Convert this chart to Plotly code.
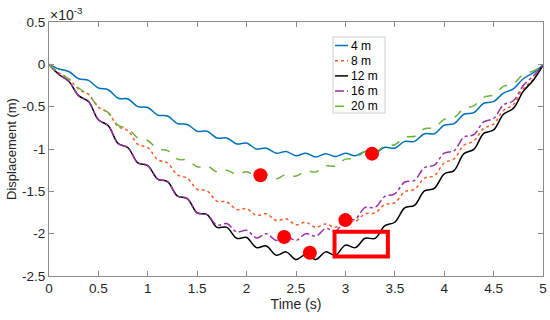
import plotly.graph_objects as go

# Time grid (s)
t = [round(0.1 * i, 1) for i in range(51)]

# Displacement values in units of 1e-3 m
d4 = [0, -0.055, -0.085, -0.17, -0.19, -0.28, -0.30, -0.40, -0.41, -0.50,
      -0.51, -0.60, -0.61, -0.70, -0.71, -0.79, -0.79, -0.87, -0.87, -0.94,
      -0.93, -1.00, -0.99, -1.05, -1.03, -1.08, -1.05, -1.095, -1.055, -1.09,
      -1.05, -1.08, -1.03, -1.05, -0.98, -0.99, -0.91, -0.91, -0.82, -0.82,
      -0.72, -0.70, -0.59, -0.57, -0.46, -0.44, -0.34, -0.29, -0.17, -0.10,
      -0.01]
d8 = [0, -0.10, -0.17, -0.295, -0.355, -0.505, -0.575, -0.735, -0.785, -0.945,
      -0.985, -1.125, -1.165, -1.305, -1.345, -1.475, -1.495, -1.615, -1.625, -1.715,
      -1.705, -1.785, -1.765, -1.845, -1.825, -1.895, -1.865, -1.925, -1.885, -1.925,
      -1.845, -1.855, -1.765, -1.755, -1.655, -1.635, -1.505, -1.475, -1.345, -1.315,
      -1.165, -1.115, -0.955, -0.905, -0.755, -0.705, -0.545, -0.475, -0.29, -0.18,
      -0.01]
d12 = [0, -0.12, -0.20, -0.37, -0.44, -0.655, -0.725, -0.935, -0.985, -1.165,
       -1.195, -1.355, -1.385, -1.555, -1.585, -1.755, -1.775, -1.925, -1.925, -2.055,
       -2.045, -2.165, -2.145, -2.255, -2.215, -2.305, -2.245, -2.305, -2.215, -2.255,
       -2.135, -2.165, -2.055, -2.055, -1.905, -1.865, -1.695, -1.665, -1.495, -1.465,
       -1.295, -1.255, -1.055, -1.005, -0.815, -0.775, -0.59, -0.52, -0.32, -0.19,
       -0.01]
d16 = [0, -0.12, -0.20, -0.37, -0.44, -0.655, -0.725, -0.935, -0.985, -1.165,
       -1.195, -1.355, -1.385, -1.555, -1.585, -1.755, -1.775, -1.90, -1.88, -1.98,
       -1.96, -2.05, -2.00, -2.08, -2.03, -2.08, -2.00, -2.03, -1.94, -1.97,
       -1.84, -1.83, -1.69, -1.69, -1.56, -1.53, -1.39, -1.37, -1.22, -1.19,
       -1.05, -1.02, -0.86, -0.83, -0.68, -0.64, -0.48, -0.43, -0.25, -0.14,
       -0.01]
d20 = [0, -0.10, -0.17, -0.28, -0.36, -0.50, -0.57, -0.72, -0.76, -0.87,
       -0.90, -1.00, -1.02, -1.12, -1.13, -1.21, -1.20, -1.27, -1.25, -1.30,
       -1.27, -1.32, -1.30, -1.35, -1.30, -1.32, -1.26, -1.27, -1.20, -1.20,
       -1.12, -1.11, -1.03, -1.04, -0.96, -0.95, -0.86, -0.85, -0.76, -0.75,
       -0.65, -0.63, -0.52, -0.49, -0.39, -0.36, -0.26, -0.23, -0.12, -0.08,
       -0.01]

series_names = ["4 m", "8 m", "12 m", "16 m", "20 m"]

# Red highlighted points (time s, displacement 1e-3 m)
pt_t = [2.14, 3.27, 3.00, 2.38, 2.64]
pt_d = [-1.31, -1.055, -1.84, -2.04, -2.225]

# Highlight rectangle [t0, t1, d0, d1]
rect = [2.89, 3.43, -2.27, -1.977]

x_ticks = [0, 0.5, 1, 1.5, 2, 2.5, 3, 3.5, 4, 4.5, 5]
x_ticktext = ["0", "0.5", "1", "1.5", "2", "2.5", "3", "3.5", "4", "4.5", "5"]
y_ticks = [-2.5, -2, -1.5, -1, -0.5, 0, 0.5]
y_ticktext = ["-2.5", "-2", "-1.5", "-1", "-0.5", "0", "0.5"]

colors = ["#0072BD", "#FF5A24", "#000000", "#9B2FA6", "#6DB33F"]
dashes = ["solid", "dot", "solid", "dashdot", "dash"]
data = [d4, d8, d12, d16, d20]

FONT = "Liberation Sans, Arial, sans-serif"

W, H = 550, 320
ML, MR, MT, MB = 49, 7, 22, 44
PW, PH = W - ML - MR, H - MT - MB


def px(xpix):
    return (xpix - ML) / PW


def py(ypix):
    return 1 - (ypix - MT) / PH


fig = go.Figure()
for name, ys, c, ds in zip(series_names, data, colors, dashes):
    fig.add_trace(go.Scatter(
        x=t, y=ys, mode="lines", name=name, showlegend=False,
        line=dict(color=c, width=1.5, dash=ds, shape="spline", smoothing=1.0),
    ))

fig.add_trace(go.Scatter(
    x=pt_t, y=pt_d, mode="markers", showlegend=False,
    marker=dict(color="#FF0000", size=14, line=dict(width=0)),
))

fig.add_shape(type="rect", xref="x", yref="y",
              x0=rect[0], x1=rect[1], y0=rect[2], y1=rect[3],
              line=dict(color="#FF0000", width=4))

# Legend box drawn in pixel-layout space (compact MATLAB-like legend)
leg_left, leg_right, leg_top, leg_bot = 333, 385, 37, 113
fig.add_shape(type="rect", xref="paper", yref="paper",
              x0=px(leg_left), x1=px(leg_right), y0=py(leg_bot), y1=py(leg_top),
              line=dict(color="#d0d0d0", width=1), fillcolor="white", layer="above")
row0, row_step = 45.5, 15.2
for i, (name, c, ds) in enumerate(zip(series_names, colors, dashes)):
    yy = row0 + i * row_step
    fig.add_shape(type="line", xref="paper", yref="paper",
                  x0=px(335), x1=px(348), y0=py(yy), y1=py(yy),
                  line=dict(color=c, width=1.5, dash=ds), layer="above")
    fig.add_annotation(xref="paper", yref="paper", x=px(349), y=py(yy),
                       xanchor="left", yanchor="middle", showarrow=False,
                       text=name, font=dict(family=FONT, size=12, color="#000000"))

fig.add_annotation(xref="paper", yref="paper", x=0, y=1, xanchor="left",
                   yanchor="bottom", yshift=-3, xshift=-1, showarrow=False,
                   text="×10<sup>-3</sup>",
                   font=dict(family=FONT, size=14, color="#262626"))

axis_common = dict(
    showline=True, linecolor="#8c8c8c", linewidth=1, mirror="ticks",
    ticks="inside", ticklen=5, tickcolor="#8c8c8c", showgrid=False,
    zeroline=False, automargin=False,
    tickfont=dict(family=FONT, size=13.5, color="#262626"),
)

fig.update_xaxes(range=[0, 5], tickvals=x_ticks, ticktext=x_ticktext,
                 title=dict(text="Time (s)", standoff=2,
                            font=dict(family=FONT, size=14, color="#262626")),
                 **axis_common)
fig.update_yaxes(range=[-2.5, 0.5], tickvals=y_ticks, ticktext=y_ticktext,
                 title=dict(text="Displacement (m)", standoff=2,
                            font=dict(family=FONT, size=13, color="#262626")),
                 **axis_common)

fig.update_layout(
    width=W, height=H,
    margin=dict(l=ML, r=MR, t=MT, b=MB),
    plot_bgcolor="white", paper_bgcolor="white",
    font=dict(family=FONT, size=12, color="#262626"),
    showlegend=False,
)

fig.write_html("out.html", config={"displayModeBar": False},
               post_script="document.body.style.margin='0';")
